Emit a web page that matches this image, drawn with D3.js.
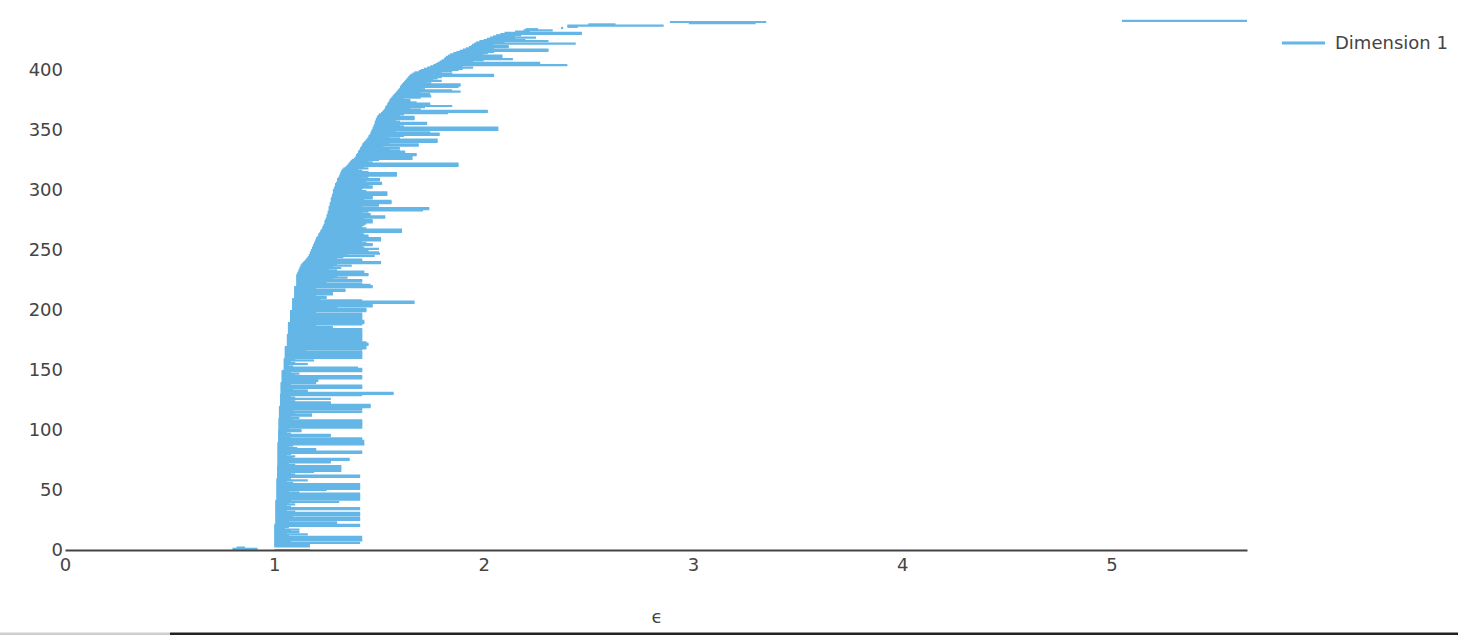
<!DOCTYPE html>
<html>
<head>
<meta charset="utf-8">
<script src="https://cdn.jsdelivr.net/npm/d3@7"></script>
<style>
  html, body { margin: 0; padding: 0; background: #fff; }
  svg { display: block; }
</style>
</head>
<body>
<script>
// ---- data ----
// bar index k = position in list (y value); births / deaths in epsilon units
const births = [
  1.00, 0.80, 0.82, 1.00, 1.00, 1.00, 1.00, 1.00, 1.00, 1.00,
  1.00, 1.00, 1.00, 1.00, 1.00, 1.00, 1.00, 1.00, 1.00, 1.00,
  1.00, 1.00, 1.005, 1.005, 1.005, 1.005, 1.005, 1.005, 1.005, 1.005,
  1.005, 1.005, 1.005, 1.005, 1.005, 1.005, 1.005, 1.005, 1.005, 1.005,
  1.005, 1.005, 1.01, 1.01, 1.01, 1.01, 1.01, 1.01, 1.01, 1.01,
  1.01, 1.01, 1.01, 1.01, 1.01, 1.01, 1.01, 1.01, 1.01, 1.01,
  1.013, 1.013, 1.013, 1.013, 1.013, 1.013, 1.013, 1.013, 1.013, 1.013,
  1.015, 1.015, 1.015, 1.015, 1.015, 1.015, 1.015, 1.015, 1.015, 1.015,
  1.015, 1.015, 1.015, 1.015, 1.015, 1.015, 1.015, 1.015, 1.015, 1.015,
  1.018, 1.018, 1.018, 1.018, 1.018, 1.018, 1.018, 1.018, 1.018, 1.018,
  1.02, 1.02, 1.02, 1.02, 1.02, 1.02, 1.02, 1.02, 1.02, 1.02,
  1.022, 1.022, 1.022, 1.022, 1.022, 1.022, 1.022, 1.022, 1.022, 1.022,
  1.027, 1.027, 1.027, 1.027, 1.027, 1.027, 1.027, 1.027, 1.027, 1.027,
  1.03, 1.03, 1.03, 1.03, 1.03, 1.03, 1.03, 1.03, 1.03, 1.03,
  1.035, 1.035, 1.035, 1.035, 1.035, 1.035, 1.035, 1.035, 1.035, 1.035,
  1.045, 1.045, 1.045, 1.045, 1.045, 1.045, 1.045, 1.045, 1.045, 1.045,
  1.05, 1.05, 1.05, 1.05, 1.05, 1.05, 1.05, 1.05, 1.05, 1.05,
  1.06, 1.06, 1.06, 1.06, 1.06, 1.06, 1.06, 1.06, 1.06, 1.06,
  1.065, 1.065, 1.065, 1.065, 1.065, 1.065, 1.065, 1.065, 1.065, 1.065,
  1.075, 1.075, 1.075, 1.075, 1.075, 1.075, 1.075, 1.075, 1.075, 1.075,
  1.085, 1.085, 1.085, 1.085, 1.085, 1.085, 1.085, 1.085, 1.085, 1.085,
  1.095, 1.095, 1.095, 1.095, 1.095, 1.095, 1.095, 1.095, 1.095, 1.095,
  1.105, 1.105, 1.105, 1.105, 1.105, 1.105, 1.105, 1.105, 1.105, 1.105,
  1.11, 1.11, 1.115, 1.115, 1.12, 1.12, 1.125, 1.125, 1.13, 1.135,
  1.14, 1.145, 1.15, 1.155, 1.16, 1.165, 1.165, 1.17, 1.17, 1.175,
  1.175, 1.18, 1.18, 1.185, 1.185, 1.19, 1.19, 1.195, 1.195, 1.20,
  1.20, 1.205, 1.21, 1.21, 1.215, 1.22, 1.22, 1.225, 1.23, 1.23,
  1.235, 1.235, 1.24, 1.24, 1.24, 1.245, 1.245, 1.25, 1.25, 1.25,
  1.255, 1.255, 1.255, 1.26, 1.26, 1.26, 1.26, 1.265, 1.265, 1.265,
  1.27, 1.27, 1.27, 1.27, 1.275, 1.275, 1.275, 1.28, 1.28, 1.28,
  1.28, 1.285, 1.285, 1.29, 1.29, 1.29, 1.295, 1.30, 1.30, 1.30,
  1.305, 1.31, 1.31, 1.315, 1.315, 1.32, 1.32, 1.325, 1.33, 1.34,
  1.345, 1.35, 1.355, 1.36, 1.365, 1.37, 1.38, 1.385, 1.39, 1.39,
  1.395, 1.40, 1.40, 1.405, 1.41, 1.41, 1.415, 1.42, 1.42, 1.425,
  1.43, 1.435, 1.44, 1.445, 1.45, 1.45, 1.455, 1.46, 1.46, 1.465,
  1.465, 1.47, 1.47, 1.475, 1.475, 1.48, 1.48, 1.48, 1.485, 1.485,
  1.49, 1.49, 1.495, 1.50, 1.51, 1.515, 1.52, 1.525, 1.53, 1.53,
  1.535, 1.54, 1.54, 1.545, 1.55, 1.55, 1.555, 1.56, 1.565, 1.57,
  1.575, 1.58, 1.585, 1.59, 1.595, 1.60, 1.60, 1.605, 1.61, 1.615,
  1.62, 1.625, 1.63, 1.635, 1.64, 1.645, 1.65, 1.66, 1.67, 1.69,
  1.70, 1.715, 1.73, 1.745, 1.76, 1.77, 1.78, 1.79, 1.80, 1.81,
  1.815, 1.82, 1.83, 1.84, 1.855, 1.87, 1.885, 1.90, 1.915, 1.93,
  1.94, 1.945, 1.955, 1.965, 1.98, 2.00, 2.015, 2.03, 2.045, 2.06,
  2.08, 2.10, 2.15, 2.19, 2.20, 2.37, 2.40, 2.40, 2.50, 2.98,
  2.89, 5.05
];
const deaths = [
  1.17, 0.92, 0.86, 1.17, 1.17, 1.10, 1.41, 1.08, 1.42, 1.42,
  1.06, 1.42, 1.07, 1.16, 1.06, 1.12, 1.08, 1.12, 1.05, 1.07,
  1.41, 1.41, 1.30, 1.30, 1.07, 1.41, 1.41, 1.41, 1.09, 1.41,
  1.41, 1.41, 1.10, 1.06, 1.41, 1.41, 1.08, 1.06, 1.10, 1.07,
  1.31, 1.08, 1.41, 1.41, 1.41, 1.41, 1.41, 1.41, 1.12, 1.07,
  1.25, 1.41, 1.41, 1.41, 1.41, 1.41, 1.09, 1.06, 1.16, 1.08,
  1.07, 1.41, 1.41, 1.10, 1.08, 1.19, 1.32, 1.32, 1.32, 1.32,
  1.32, 1.10, 1.07, 1.27, 1.27, 1.36, 1.36, 1.09, 1.10, 1.06,
  1.08, 1.42, 1.42, 1.20, 1.20, 1.11, 1.07, 1.09, 1.43, 1.43,
  1.42, 1.43, 1.42, 1.42, 1.08, 1.27, 1.27, 1.08, 1.06, 1.13,
  1.13, 1.07, 1.42, 1.42, 1.42, 1.42, 1.42, 1.42, 1.42, 1.09,
  1.12, 1.08, 1.18, 1.18, 1.10, 1.42, 1.09, 1.42, 1.42, 1.46,
  1.46, 1.46, 1.27, 1.27, 1.10, 1.08, 1.27, 1.10, 1.08, 1.42,
  1.57, 1.57, 1.16, 1.16, 1.09, 1.42, 1.42, 1.42, 1.08, 1.20,
  1.20, 1.21, 1.21, 1.42, 1.42, 1.42, 1.10, 1.12, 1.08, 1.42,
  1.42, 1.42, 1.40, 1.09, 1.07, 1.16, 1.10, 1.08, 1.19, 1.10,
  1.42, 1.42, 1.42, 1.42, 1.42, 1.42, 1.15, 1.42, 1.44, 1.44,
  1.42, 1.45, 1.45, 1.44, 1.42, 1.42, 1.42, 1.42, 1.42, 1.42,
  1.42, 1.42, 1.42, 1.42, 1.42, 1.17, 1.28, 1.20, 1.42, 1.43,
  1.43, 1.43, 1.42, 1.42, 1.42, 1.42, 1.42, 1.42, 1.20, 1.44,
  1.44, 1.44, 1.30, 1.47, 1.47, 1.25, 1.67, 1.67, 1.42, 1.22,
  1.25, 1.25, 1.20, 1.28, 1.28, 1.22, 1.34, 1.34, 1.20, 1.47,
  1.47, 1.46, 1.42, 1.25, 1.42, 1.42, 1.28, 1.35, 1.30, 1.45,
  1.45, 1.43, 1.43, 1.30, 1.26, 1.32, 1.28, 1.37, 1.30, 1.51,
  1.51, 1.42, 1.42, 1.30, 1.33, 1.48, 1.35, 1.505, 1.50, 1.45,
  1.42, 1.50, 1.43, 1.42, 1.47, 1.47, 1.44, 1.42, 1.51, 1.51,
  1.51, 1.45, 1.45, 1.43, 1.42, 1.61, 1.61, 1.61, 1.44, 1.42,
  1.42, 1.43, 1.44, 1.47, 1.47, 1.47, 1.43, 1.53, 1.53, 1.46,
  1.46, 1.42, 1.45, 1.71, 1.74, 1.74, 1.42, 1.50, 1.50, 1.56,
  1.56, 1.56, 1.43, 1.47, 1.47, 1.47, 1.54, 1.54, 1.54, 1.44,
  1.42, 1.42, 1.47, 1.47, 1.45, 1.515, 1.515, 1.44, 1.505, 1.505,
  1.42, 1.45, 1.586, 1.586, 1.586, 1.45, 1.42, 1.40, 1.45, 1.43,
  1.88, 1.88, 1.88, 1.47, 1.45, 1.50, 1.66, 1.66, 1.66, 1.68,
  1.68, 1.625, 1.625, 1.60, 1.55, 1.60, 1.52, 1.69, 1.69, 1.55,
  1.78, 1.78, 1.78, 1.60, 1.55, 1.62, 1.79, 1.79, 1.745, 1.58,
  2.07, 2.07, 2.07, 1.62, 1.60, 1.73, 1.73, 1.60, 1.58, 1.67,
  1.67, 1.67, 1.60, 1.62, 1.83, 2.02, 2.02, 1.70, 1.65, 1.72,
  1.85, 1.745, 1.745, 1.68, 1.65, 1.65, 1.62, 1.70, 1.75, 1.745,
  1.745, 1.70, 1.89, 1.85, 1.72, 1.70, 1.88, 1.89, 1.89, 1.75,
  1.72, 1.80, 1.76, 1.78, 1.80, 2.05, 2.05, 1.85, 1.80, 1.85,
  1.88, 1.90, 1.95, 1.90, 2.40, 2.27, 2.27, 1.95, 2.00, 2.14,
  2.05, 2.09, 2.09, 2.00, 2.02, 2.05, 2.31, 2.31, 2.05, 2.12,
  2.12, 2.05, 2.44, 2.10, 2.31, 2.20, 2.15, 2.25, 2.15, 2.18,
  2.47, 2.47, 2.22, 2.33, 2.26, 2.38, 2.45, 2.86, 2.63, 3.30,
  3.35, 5.647
];
const xTicks = [0, 1, 2, 3, 4, 5];
const yTicks = [0, 50, 100, 150, 200, 250, 300, 350, 400];
const seriesName = "Dimension 1";
const xTitle = "\u03F5";

// ---- drawing ----
const W = 1458, H = 635;
const color = "#63b6e6";
const textColor = "#444";
const font = "'DejaVu Sans', Verdana, sans-serif";

const svg = d3.select("body").append("svg").attr("width", W).attr("height", H);

const x = d3.scaleLinear().domain([0, 5.647]).range([65, 1247]);
const y = d3.scaleLinear().domain([0, 445]).range([550, 16]);

svg.append("defs").append("clipPath").attr("id", "plotclip")
  .append("rect").attr("x", 65).attr("y", 0).attr("width", 1247 - 65).attr("height", 553);

const n = Math.min(births.length, deaths.length);
svg.append("g").attr("clip-path", "url(#plotclip)")
  .selectAll("line").data(d3.range(n)).join("line")
  .attr("x1", k => x(births[k]))
  .attr("x2", k => x(deaths[k]))
  .attr("y1", k => y(k))
  .attr("y2", k => y(k))
  .attr("stroke", color)
  .attr("stroke-width", 2.2);

// y axis (labels only)
const gy = svg.append("g").attr("transform", "translate(65,0)")
  .call(d3.axisLeft(y).tickValues(yTicks).tickSize(0).tickPadding(2));
gy.select(".domain").remove();
gy.selectAll("text").attr("font-size", 18).attr("font-family", font).attr("fill", textColor);

// x axis
const gx = svg.append("g").attr("transform", "translate(0,550)")
  .call(d3.axisBottom(x).tickValues(xTicks).tickSize(0).tickSizeOuter(0).tickPadding(8).tickFormat(d3.format("d")));
gx.select(".domain").attr("stroke", "#444").attr("stroke-width", 2);
gx.selectAll("text").attr("font-size", 18).attr("font-family", font).attr("fill", textColor);

// x title
svg.append("text").attr("x", (x.range()[0] + x.range()[1]) / 2 + 1).attr("y", 623)
  .attr("text-anchor", "middle").attr("font-size", 18).attr("font-family", font)
  .attr("fill", textColor).text(xTitle);

// legend
const lg = svg.append("g").attr("transform", "translate(1282,43)");
lg.append("line").attr("x1", 0).attr("x2", 43).attr("y1", 0).attr("y2", 0)
  .attr("stroke", color).attr("stroke-width", 3);
lg.append("text").attr("x", 53).attr("y", 0).attr("dy", "0.36em")
  .attr("font-size", 18).attr("font-family", font).attr("fill", textColor).text(seriesName);

// bottom strip seen in the reference
svg.append("rect").attr("x", 0).attr("y", 632.5).attr("width", 170).attr("height", 2.5).attr("fill", "#cfcfcf");
svg.append("rect").attr("x", 170).attr("y", 632.5).attr("width", W - 170).attr("height", 2.5).attr("fill", "#222");
</script>
</body>
</html>
